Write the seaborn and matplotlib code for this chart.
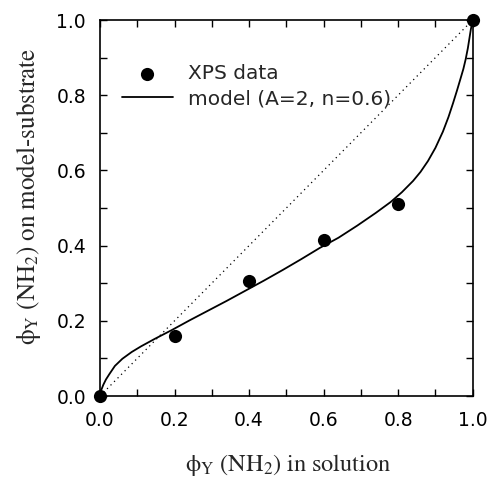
import matplotlib
matplotlib.use("Agg")
import matplotlib.pyplot as plt
import seaborn as sns
import pandas as pd
from matplotlib.ticker import MultipleLocator

# XPS data
xps_x = [0.0, 0.2, 0.4, 0.6, 0.8, 1.0]
xps_y = [0.0, 0.16, 0.305, 0.415, 0.51, 1.0]

# model curve
model_x = [0.0, 0.003, 0.009, 0.016, 0.025, 0.040, 0.060, 0.085, 0.110, 0.147,
           0.192, 0.240, 0.290, 0.340, 0.390, 0.440, 0.490, 0.540, 0.590, 0.640,
           0.690, 0.740, 0.780, 0.810, 0.840, 0.860, 0.880, 0.900, 0.920, 0.935,
           0.947, 0.958, 0.967, 0.975, 0.981, 0.987, 0.991, 0.995, 1.0]
model_y = [0.0, 0.015, 0.030, 0.044, 0.058, 0.080, 0.099, 0.117, 0.132, 0.152,
           0.175, 0.201, 0.227, 0.253, 0.280, 0.307, 0.335, 0.364, 0.394, 0.421,
           0.453, 0.487, 0.516, 0.542, 0.572, 0.596, 0.625, 0.660, 0.703, 0.742,
           0.778, 0.813, 0.843, 0.870, 0.895, 0.925, 0.950, 0.975, 1.0]

diag = [0.0, 1.0]
ticks = [0.0, 0.2, 0.4, 0.6, 0.8, 1.0]
tick_labels = ["0.0", "0.2", "0.4", "0.6", "0.8", "1.0"]

sns.set_style("ticks")
plt.rcParams["font.family"] = ["DejaVu Sans"]
plt.rcParams["mathtext.fontset"] = "stix"

fig = plt.figure(figsize=(4.91, 4.82), dpi=100)
ax = fig.add_axes([100 / 491, 1 - 396 / 482, 372.7 / 491, 376 / 482])

df_xps = pd.DataFrame({"x": xps_x, "y": xps_y})
df_model = pd.DataFrame({"x": model_x, "y": model_y})
df_diag = pd.DataFrame({"x": diag, "y": diag})

sns.lineplot(data=df_diag, x="x", y="y", ax=ax, color="black", lw=0.9,
             linestyle=(0, (1, 3)), sort=False, estimator=None, legend=False)
sns.lineplot(data=df_model, x="x", y="y", ax=ax, color="black", lw=1.3,
             sort=False, estimator=None, label="model (A=2, n=0.6)")
sns.scatterplot(data=df_xps, x="x", y="y", ax=ax, color="black", s=90,
                edgecolor="black", linewidth=0, zorder=5, clip_on=False,
                label="XPS data")

ax.set_xlim(0, 1)
ax.set_ylim(0, 1)
ax.set_xticks(ticks)
ax.set_xticklabels(tick_labels)
ax.set_yticks(ticks)
ax.set_yticklabels(tick_labels)
ax.xaxis.set_minor_locator(MultipleLocator(0.1))
ax.yaxis.set_minor_locator(MultipleLocator(0.1))
ax.tick_params(which="both", direction="in", top=True, right=True,
               length=5, width=1.0, labelsize=13.5, colors="black")
ax.tick_params(axis="x", which="both", pad=11)
ax.tick_params(axis="y", which="both", pad=10)
for sp in ax.spines.values():
    sp.set_visible(True)
    sp.set_linewidth(1.2)
    sp.set_color("black")

ax.set_xlabel(r"$\mathrm{\phi_{Y}\ (NH_{2})\ in\ solution}$", fontsize=17.5)
ax.set_ylabel(r"$\mathrm{\phi_{Y}\ (NH_{2})\ on\ model\text{-}substrate}$", fontsize=18)
ax.xaxis.set_label_coords(0.505, -0.148)
ax.yaxis.set_label_coords(-0.153, 0.532)

handles, labels = ax.get_legend_handles_labels()
order = [labels.index("XPS data"), labels.index("model (A=2, n=0.6)")]
leg = ax.legend([handles[i] for i in order], [labels[i] for i in order],
                loc="upper left", bbox_to_anchor=(0.058, 0.883), frameon=False,
                borderpad=0, borderaxespad=0,
                fontsize=14.5, handlelength=2.55, handletextpad=0.75, labelspacing=0.32,
                markerscale=1.0)

fig.savefig("out.png", dpi=100)
